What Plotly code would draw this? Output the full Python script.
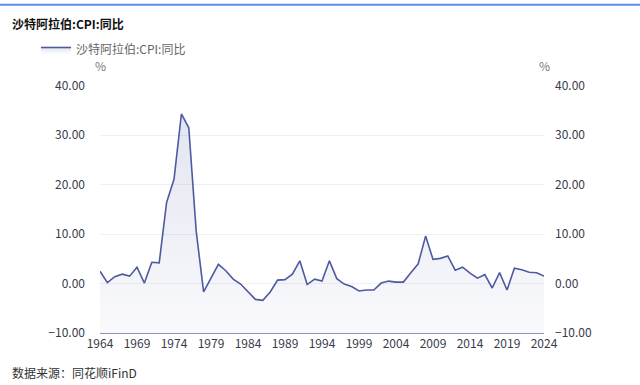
import plotly.graph_objects as go

years = list(range(1964, 2025))
cpi_yoy = [2.5, 0.2, 1.4, 1.9, 1.5, 3.3, 0.1, 4.3, 4.2, 16.4,
           21.1, 34.3, 31.5, 10.6, -1.7, 1.1, 3.9, 2.6, 0.9, -0.1,
           -1.7, -3.2, -3.4, -1.7, 0.7, 0.8, 1.9, 4.6, -0.2, 0.9,
           0.5, 4.6, 1.0, -0.1, -0.6, -1.5, -1.3, -1.3, 0.1, 0.5,
           0.3, 0.3, 2.2, 4.0, 9.6, 4.9, 5.1, 5.6, 2.7, 3.3,
           2.1, 1.1, 1.8, -0.9, 2.2, -1.3, 3.1, 2.8, 2.3, 2.2,
           1.5]
x_ticks = list(range(1964, 2025, 5))
y_ticks = [-10, 0, 10, 20, 30, 40]
series_name = "沙特阿拉伯:CPI:同比"
title_text = "沙特阿拉伯:CPI:同比"
source_text = "数据来源：同花顺iFinD"
Y_MIN, Y_MAX = -10, 40

LINE = "#4e5aa0"
FONT = "Noto Sans CJK SC"

W, H = 640, 385
ML, MR, MT, MB = 100, 96, 83, 52
PW, PH = W - ML - MR, H - MT - MB

fig = go.Figure()
# baseline at axis minimum for the area fill
fig.add_trace(go.Scatter(x=years, y=[Y_MIN] * len(years), mode="lines",
                         line=dict(width=0), showlegend=False, hoverinfo="skip"))
fig.add_trace(go.Scatter(
    x=years, y=cpi_yoy, mode="lines", name=series_name,
    line=dict(color=LINE, width=1.6),
    fill="tonexty",
    fillgradient=dict(type="vertical", start=Y_MIN, stop=35,
                      colorscale=[[0, "rgba(78,90,160,0.03)"], [1, "rgba(78,90,160,0.16)"]]),
))
fig.add_trace(go.Scatter(x=years, y=cpi_yoy, yaxis="y2", mode="lines",
                         line=dict(width=0, color="rgba(0,0,0,0)"),
                         showlegend=False, hoverinfo="skip"))

tick_font = dict(family=FONT, size=12, color="#3a3a4a")
fig.update_layout(
    width=W, height=H,
    margin=dict(l=ML, r=MR, t=MT, b=MB),
    paper_bgcolor="white", plot_bgcolor="white",
    font=dict(family=FONT),
    showlegend=True,
    legend=dict(x=36 / W, y=1 - 35 / H, xref="container", yref="container",
                xanchor="left", yanchor="top", orientation="h",
                font=dict(family=FONT, size=12, color="#666666"),
                bgcolor="rgba(0,0,0,0)", itemwidth=30),
    xaxis=dict(range=[1964, 2024], tickvals=x_ticks, ticktext=[str(v) for v in x_ticks],
               showgrid=False, zeroline=False, showline=True, linecolor="#8a90c4", linewidth=1,
               ticks="", tickfont=tick_font),
    yaxis=dict(range=[Y_MIN, Y_MAX], tickvals=y_ticks, tickformat=".2f",
               showgrid=True, gridcolor="#eef0f7", gridwidth=1, zeroline=False,
               showline=False, ticks="", tickfont=tick_font, ticklabelstandoff=14),
    yaxis2=dict(range=[Y_MIN, Y_MAX], tickvals=y_ticks, tickformat=".2f", overlaying="y",
                side="right", showgrid=False, zeroline=False, showline=False, ticks="",
                tickfont=tick_font, ticklabelstandoff=10),
    annotations=[
        dict(text="<b>" + title_text + "</b>", xref="paper", yref="paper",
             x=-(ML - 10) / PW, y=1 + (MT - 20) / PH, xanchor="left", yanchor="middle",
             showarrow=False, font=dict(family=FONT, size=12, color="#111111")),
        dict(text="%", xref="paper", yref="paper", x=0, y=1 + 21 / PH,
             xanchor="center", yanchor="middle", showarrow=False,
             font=dict(family=FONT, size=12, color="#777777")),
        dict(text="%", xref="paper", yref="paper", x=1, y=1 + 21 / PH,
             xanchor="center", yanchor="middle", showarrow=False,
             font=dict(family=FONT, size=12, color="#777777")),
        dict(text=source_text, xref="paper", yref="paper",
             x=-(ML - 10) / PW, y=-(373 - (MT + PH)) / PH, xanchor="left", yanchor="middle",
             showarrow=False, font=dict(family=FONT, size=12, color="#333333")),
    ],
    shapes=[dict(type="line", xref="paper", yref="paper",
                 x0=-ML / PW, x1=1 + MR / PW, y0=1 + (MT - 1) / PH, y1=1 + (MT - 1) / PH,
                 line=dict(color="#5b8def", width=2))],
)

post = ("document.body.style.margin='0';"
        "var d=document.getElementById('{plot_id}');"
        "d.style.position='absolute';d.style.left='0px';d.style.top='0px';")
fig.write_html("out.html", post_script=post, config={"displayModeBar": False})
